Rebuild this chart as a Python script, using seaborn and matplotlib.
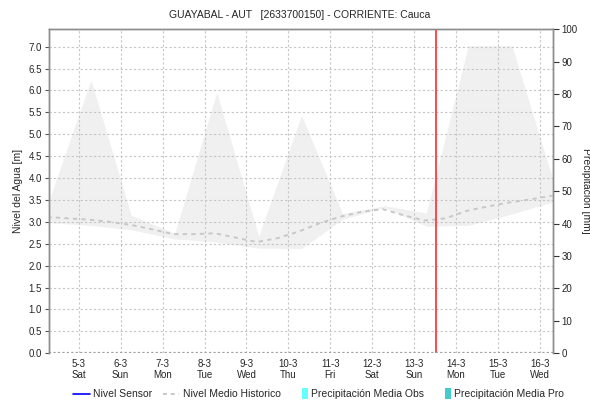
import matplotlib
matplotlib.use("Agg")
import matplotlib.pyplot as plt
import matplotlib.dates as mdates
from matplotlib.lines import Line2D
from matplotlib.patches import Patch, Rectangle
from matplotlib.legend_handler import HandlerPatch
import numpy as np
import pandas as pd
import seaborn as sns

# ---- data ----
station_title = "GUAYABAL - AUT   [2633700150] - CORRIENTE: Cauca"

# daily envelope of water level (m), sampled at 07:00
band_times = ["2022-03-04 07:00", "2022-03-05 07:00", "2022-03-06 06:00",
              "2022-03-07 07:00", "2022-03-08 07:00", "2022-03-09 07:00",
              "2022-03-10 07:30", "2022-03-11 07:00", "2022-03-12 07:00",
              "2022-03-13 07:00", "2022-03-14 07:00", "2022-03-15 08:00",
              "2022-03-16 07:00", "2022-03-16 07:30"]
band_upper = [3.49, 6.24, 3.15, 2.74, 5.96, 2.67, 5.43, 3.19, 3.37, 3.20,
              7.02, 7.02, 4.02, 3.90]
band_lower = [2.98, 2.92, 2.82, 2.61, 2.54, 2.40, 2.39, 3.06, 3.33, 2.90,
              2.92, 3.18, 3.45, 3.46]

# historical mean level (m), 12-hourly
hist_times = pd.date_range("2022-03-04 06:00", periods=26, freq="12h")
hist_level = [3.11, 3.08, 3.05, 3.00, 2.93, 2.83, 2.72, 2.72, 2.74, 2.64,
              2.54, 2.63, 2.78, 2.97, 3.12, 3.23, 3.29, 3.15, 3.03, 3.08,
              3.25, 3.35, 3.44, 3.51, 3.59, 3.65]

# sensor level (no readings in this window)
sensor_times = []
sensor_level = []

now_time = "2022-03-13 12:30"
x_start, x_end = "2022-03-04 07:00", "2022-03-16 07:30"


class NarrowPatchHandler(HandlerPatch):
    """Legend key drawn as a slim vertical block."""
    def create_artists(self, legend, orig_handle, xdescent, ydescent,
                       width, height, fontsize, trans):
        w = height * 0.8
        h = height * 1.45
        r = Rectangle((width - w - xdescent, -ydescent - (h - height) / 2),
                      w, h, facecolor=orig_handle.get_facecolor(),
                      edgecolor="none", transform=trans)
        return [r]


# ---- style ----
sns.set_style("white")
plt.rcParams["font.family"] = ["Liberation Sans", "DejaVu Sans"]
plt.rcParams["font.size"] = 7

fig = plt.figure(figsize=(5.9, 4.04), dpi=100)
ax = fig.add_axes([0.0831, 0.1255, 0.8542, 0.8025])
ax2 = ax.twinx()

band = pd.DataFrame({"t": pd.to_datetime(band_times),
                     "hi": band_upper, "lo": band_lower})
hist = pd.DataFrame({"t": hist_times, "nivel": hist_level})

ax.fill_between(band["t"], band["lo"], band["hi"], color="#f0f0f0",
                linewidth=0, zorder=1)

grid_kw = dict(color="#c6c6c6", linestyle=(0, (2, 2)), linewidth=0.8)

sns.lineplot(data=hist, x="t", y="nivel", ax=ax, color="#c8c8c8",
             linewidth=1.4, zorder=3)
ax.lines[-1].set_linestyle((0, (2.2, 2.2)))

if sensor_times:
    ax.plot(pd.to_datetime(sensor_times), sensor_level, color="#0000ff", lw=1)

ax.axvline(pd.Timestamp(now_time), color="#ff3b3b", linewidth=1.3, zorder=4)

ax.set_xlim(pd.Timestamp(x_start), pd.Timestamp(x_end))
ax.set_ylim(0, 7.4)
ax2.set_ylim(0, 100)

ax.set_yticks(np.arange(0, 7.01, 0.5))
ax.set_yticklabels([f"{v:.1f}" for v in np.arange(0, 7.01, 0.5)])
ax2.set_yticks(np.arange(0, 101, 10))

ax.xaxis.set_major_locator(mdates.DayLocator())
ax.xaxis.set_major_formatter(
    plt.FuncFormatter(lambda v, p: (lambda d: f"{d.day}-{d.month}\n{d.strftime('%a')}")(mdates.num2date(v))))

for y in np.arange(0.5, 7.01, 0.5):
    ax.axhline(y, zorder=2, **grid_kw)
for d in pd.date_range("2022-03-05", "2022-03-16", freq="D"):
    ax.axvline(d, zorder=2, **grid_kw)
ax.axhline(0, color="#a0a0a0", linestyle=(0, (1, 1)), linewidth=1.6, zorder=5)

ax.set_xlabel("")
ax.set_ylabel("Nivel del Agua [m]", fontsize=7.5, labelpad=4)
ax2.set_ylabel("Precipitación [mm]", fontsize=7.5, rotation=270, labelpad=10)

for a in (ax, ax2):
    for s in a.spines.values():
        s.set_color("#8c8c8c")
        s.set_linewidth(1)
ax.spines["bottom"].set_visible(False)
ax2.spines["bottom"].set_visible(False)

ax.tick_params(axis="y", direction="out", length=3, width=0.8, color="#555555",
               labelsize=7, pad=2, left=True)
ax.tick_params(axis="x", length=0, labelsize=7, pad=4)
ax2.tick_params(axis="y", direction="out", length=4, width=0.8, color="#333333",
                labelsize=7, pad=2, right=True)

fig.suptitle(station_title, x=0.508, y=0.975, fontsize=7.5)

handles = [Line2D([], [], color="#0000ff", lw=1.2),
           Line2D([], [], color="#c8c8c8", lw=1.4, linestyle=(0, (2, 2))),
           Patch(facecolor="#66ffff", edgecolor="none"),
           Patch(facecolor="#44cccc", edgecolor="none")]
labels = ["Nivel Sensor", "Nivel Medio Historico",
          "Precipitación Media Obs", "Precipitación Media Pro"]
fig.legend(handles, labels, loc="center", bbox_to_anchor=(0.54, 0.024),
           ncol=4, frameon=False, fontsize=7.5, handlelength=1.6,
           handletextpad=0.3, columnspacing=1.0,
           handler_map={Patch: NarrowPatchHandler()})

fig.savefig("out.png", dpi=100)
